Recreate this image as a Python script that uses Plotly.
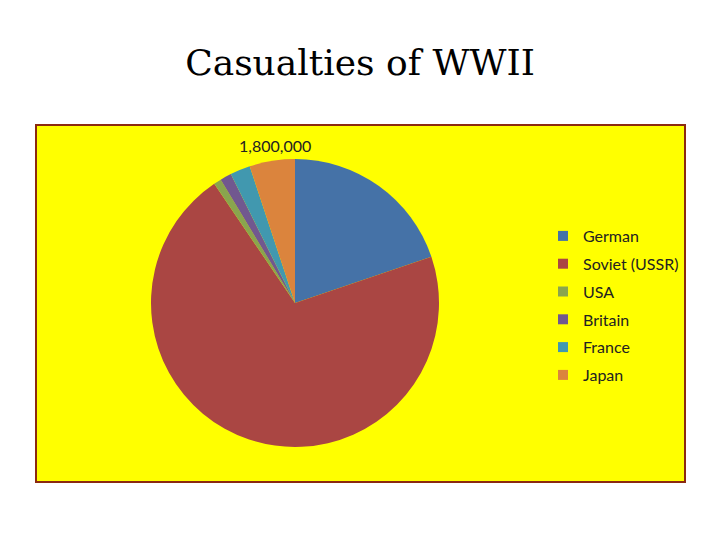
import math
import plotly.graph_objects as go

countries = ["German", "Soviet (USSR)", "USA", "Britain", "France", "Japan"]
casualties = [7000000, 25000000, 300000, 450000, 800000, 1800000]
label_country = "Japan"
colors = ["#4572A7", "#AA4643", "#89A54E", "#71588F", "#4198AF", "#DB843D"]

W, H = 720, 540
CX, CY, R = 295, 303, 144  # pie centre / radius in px

fig = go.Figure()
fig.add_trace(go.Pie(
    labels=countries,
    values=casualties,
    textinfo="none",
    sort=False,
    direction="clockwise",
    rotation=0,
    marker=dict(colors=colors, line=dict(width=0)),
    domain=dict(x=[(CX - R) / W, (CX + R) / W],
                y=[1 - (CY + R) / H, 1 - (CY - R) / H]),
    showlegend=False,
    hoverinfo="label+value",
))

# legend entries (one group each so spacing can be set)
for name, col in zip(countries, colors):
    fig.add_trace(go.Scatter(
        x=[None], y=[None], mode="markers", name=name,
        legendgroup=name,
        marker=dict(symbol="square", size=10, color=col),
        hoverinfo="skip",
    ))

# data label for Japan, placed just outside its slice midpoint
total = sum(casualties)
idx = countries.index(label_country)
start = sum(casualties[:idx]) / total
mid = (start + casualties[idx] / total / 2) * 2 * math.pi
lr = R + 16
lx = CX + lr * math.sin(mid) + 5
ly = CY - lr * math.cos(mid)

fig.update_layout(
    width=W, height=H,
    margin=dict(l=0, r=0, t=0, b=0),
    paper_bgcolor="white",
    plot_bgcolor="rgba(0,0,0,0)",
    xaxis=dict(visible=False),
    yaxis=dict(visible=False),
    title=dict(text="Casualties of WWII", x=0.5, xanchor="center",
               y=1 - 62 / H, yanchor="middle",
               font=dict(family="DejaVu Serif", size=36, color="black")),
    legend=dict(x=543 / W, y=1 - 219 / H, xanchor="left", yanchor="top",
                bgcolor="rgba(0,0,0,0)", tracegroupgap=4,
                font=dict(family="Lato", size=16, color="#222222"),
                itemwidth=30),
    annotations=[dict(text=f"{casualties[idx]:,}", xref="paper", yref="paper",
                      x=lx / W, y=1 - ly / H, xanchor="center", yanchor="middle",
                      showarrow=False,
                      font=dict(family="Lato", size=16, color="#222222"))],
    shapes=[dict(type="rect", xref="paper", yref="paper",
                 x0=36 / W, x1=685 / W, y0=1 - 482 / H, y1=1 - 125 / H,
                 fillcolor="#FFFF00", line=dict(color="#8B2A10", width=2),
                 layer="below")],
)

fig.write_html("out.html", config={"displayModeBar": False},
               post_script="document.body.style.margin='0';")
